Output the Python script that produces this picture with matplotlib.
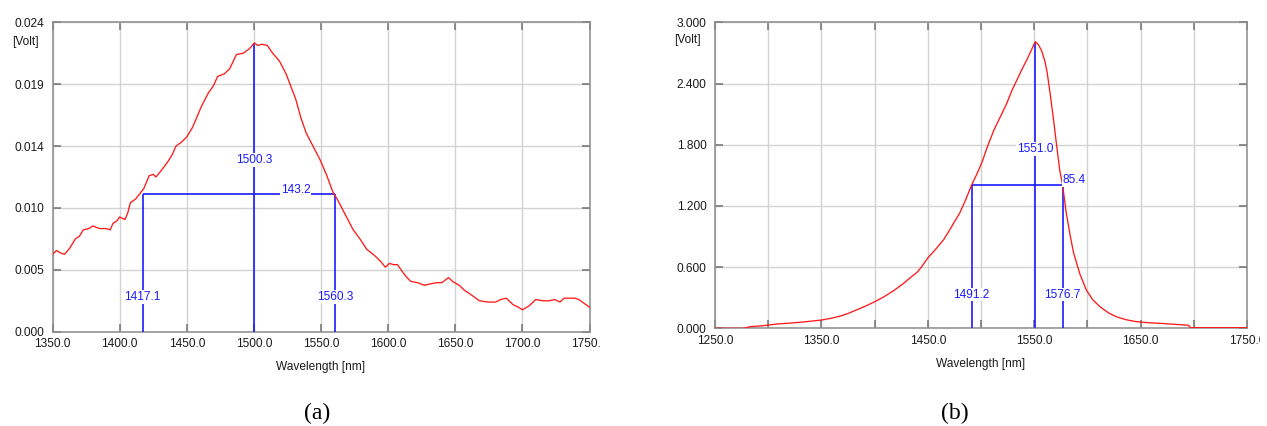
import numpy as np
import matplotlib
matplotlib.use("Agg")
import matplotlib.pyplot as plt
from matplotlib.transforms import Bbox, TransformedBbox

# ---- Spectrum (a) ----
a_wl = [1350, 1353, 1356, 1359, 1363, 1367, 1370, 1373, 1377, 1380, 1385, 1390,
        1393, 1395, 1398, 1400, 1404, 1406, 1408, 1412, 1415, 1418, 1422, 1425,
        1427, 1431, 1436, 1439, 1442, 1446, 1450, 1454, 1457, 1461, 1466, 1470,
        1473, 1478, 1482, 1487, 1492, 1496, 1498, 1500.3, 1503, 1506, 1510, 1514,
        1519, 1524, 1528, 1531, 1535, 1539, 1544, 1549, 1554, 1559, 1562, 1565,
        1570, 1574, 1579, 1584, 1590, 1594, 1598, 1601, 1604, 1607, 1611, 1614,
        1617, 1622, 1627, 1631, 1636, 1640, 1645, 1648, 1653, 1657, 1660, 1664,
        1668, 1674, 1680, 1684, 1688, 1693, 1697, 1700, 1705, 1710, 1715, 1720,
        1724, 1728, 1731, 1735, 1739, 1742, 1746, 1750]
a_volt = [0.0060, 0.0063, 0.0061, 0.0060, 0.0065, 0.0072, 0.0074, 0.0079, 0.0080,
          0.0082, 0.0080, 0.0080, 0.0079, 0.0084, 0.0086, 0.0089, 0.0087, 0.0092,
          0.0100, 0.0103, 0.0107, 0.0111, 0.0121, 0.0122, 0.0120, 0.0125, 0.0132,
          0.0137, 0.0144, 0.0147, 0.0151, 0.0158, 0.0165, 0.0175, 0.0185, 0.0191,
          0.0198, 0.0200, 0.0204, 0.0215, 0.0216, 0.0219, 0.0221, 0.0224, 0.0222,
          0.0223, 0.0222, 0.0216, 0.0210, 0.0200, 0.0189, 0.0181, 0.0166, 0.0154,
          0.0144, 0.0134, 0.0122, 0.0108, 0.0103, 0.0097, 0.0087, 0.0079, 0.0072,
          0.0064, 0.0059, 0.0055, 0.0050, 0.0053, 0.0052, 0.0052, 0.0046, 0.0042,
          0.0039, 0.0038, 0.0036, 0.0037, 0.0038, 0.0038, 0.0042, 0.0039, 0.0036,
          0.0032, 0.0030, 0.0027, 0.0024, 0.0023, 0.0023, 0.0025, 0.0026, 0.0021,
          0.0019, 0.0017, 0.0020, 0.0025, 0.0024, 0.0024, 0.0025, 0.0023, 0.0026,
          0.0026, 0.0026, 0.0025, 0.0022, 0.0019]
a_peak_wl, a_peak_v = 1500.3, 0.0224
a_left, a_right, a_level = 1417.1, 1560.3, 0.0107
a_fwhm = 143.2

# ---- Spectrum (b) ----
b_wl = [1250, 1277, 1283, 1295, 1308, 1322, 1336, 1350, 1360, 1368, 1376, 1383,
        1392, 1400, 1409, 1418, 1426, 1434, 1440, 1444, 1450, 1457, 1465, 1472,
        1480, 1486, 1491.2, 1496, 1501, 1506, 1512, 1518, 1524, 1529, 1534, 1539,
        1543, 1547, 1551, 1554, 1557, 1560, 1562, 1565, 1568, 1571, 1574, 1576.7,
        1580, 1584, 1587, 1593, 1599, 1605, 1612, 1620, 1627, 1636, 1646, 1657,
        1668, 1681, 1695, 1697, 1750]
b_volt = [0.000, 0.000, 0.016, 0.025, 0.042, 0.052, 0.065, 0.081, 0.100, 0.12,
          0.15, 0.18, 0.22, 0.26, 0.31, 0.37, 0.43, 0.50, 0.55, 0.60, 0.69, 0.77,
          0.87, 0.99, 1.13, 1.27, 1.405, 1.51, 1.63, 1.78, 1.94, 2.07, 2.20, 2.33,
          2.44, 2.55, 2.63, 2.72, 2.81, 2.78, 2.72, 2.62, 2.52, 2.30, 2.06, 1.80,
          1.55, 1.405, 1.14, 0.90, 0.74, 0.53, 0.375, 0.28, 0.21, 0.15, 0.114,
          0.085, 0.065, 0.055, 0.049, 0.040, 0.030, 0.006, 0.006]
b_peak_wl, b_peak_v = 1551.0, 2.81
b_left, b_right, b_level = 1491.2, 1576.7, 1.405
b_fwhm = 85.4

a_xticks = [1350, 1400, 1450, 1500, 1550, 1600, 1650, 1700, 1750]
a_yticks = [0.0, 0.0048, 0.0096, 0.0144, 0.0192, 0.024]
b_xticks = [1250, 1300, 1350, 1400, 1450, 1500, 1550, 1600, 1650, 1700, 1750]
b_yticks = [0.0, 0.6, 1.2, 1.8, 2.4, 3.0]

W, H = 1267, 426
fig = plt.figure(figsize=(W / 100, H / 100), dpi=100)
plt.rcParams['font.family'] = ['Liberation Sans', 'DejaVu Sans']

RED = '#ff1a1a'
BLUE = '#1a1aff'
FRAME = '#8c8c8c'
GRID = '#d2d2d2'
FS = 8.6
TXT = '#1a1a1a'


def px_axes(l, t, r, b):
    return fig.add_axes([l / W, 1 - b / H, (r - l) / W, (b - t) / H])


def style(ax, xlim, ylim, xticks, yticks, xfmt, yfmt, xlabel_every=1, clip_x=None):
    ax.set_xlim(*xlim)
    ax.set_ylim(*ylim)
    ax.set_xticks(xticks)
    ax.set_yticks(yticks)
    ax.set_xticklabels([xfmt % v if i % xlabel_every == 0 else ''
                        for i, v in enumerate(xticks)])
    ax.set_yticklabels([yfmt % v for v in yticks])
    ax.grid(True, color=GRID, linewidth=1.0, zorder=0)
    ax.set_axisbelow(True)
    for s in ax.spines.values():
        s.set_color(FRAME)
        s.set_linewidth(1.1)
    ax.tick_params(axis='both', direction='in', length=5.8, width=1.1,
                   color='#707070', top=True, right=True, labelsize=FS,
                   labelcolor=TXT)
    ax.tick_params(axis='y', pad=6)
    ax.tick_params(axis='x', pad=4.5)
    ax.set_xlabel('Wavelength [nm]', fontsize=FS, color=TXT, labelpad=8)
    if clip_x is not None:
        box = TransformedBbox(Bbox.from_extents(0, 0, clip_x / W, 1), fig.transFigure)
        for lab in ax.get_xticklabels():
            lab.set_clip_box(box)
            lab.set_clip_on(True)


def markers(ax, peak_wl, peak_v, left, right, level, fwhm, peak_y, foot_y,
            fwhm_pos, fwhm_ha):
    lw = 1.2
    kw = dict(color=BLUE, lw=lw, zorder=3, solid_capstyle='butt')
    ax.plot([peak_wl, peak_wl], [0, peak_v], **kw)
    ax.plot([left, left], [0, level], **kw)
    ax.plot([right, right], [0, level], **kw)
    ax.plot([left, right], [level, level], **kw)
    bb = dict(facecolor='white', edgecolor='none', pad=0.6)
    tk = dict(color=BLUE, fontsize=FS, va='center', bbox=bb, zorder=5)
    ax.text(peak_wl, peak_y, '%.1f' % peak_wl, ha='center', **tk)
    ax.text(left, foot_y, '%.1f' % left, ha='center', **tk)
    ax.text(right, foot_y, '%.1f' % right, ha='center', **tk)
    ax.text(fwhm_pos[0], fwhm_pos[1], '%.1f' % fwhm, ha=fwhm_ha, **tk)


# panel (a)
ax1 = px_axes(52.5, 22.3, 589.5, 331.7)
ax1.plot(a_wl, a_volt, color=RED, lw=0.95, zorder=4)
markers(ax1, a_peak_wl, a_peak_v, a_left, a_right, a_level, a_fwhm,
        peak_y=0.0133, foot_y=0.0027, fwhm_pos=(1531, 0.0110), fwhm_ha='center')
style(ax1, (1350, 1750), (0, 0.024), a_xticks, a_yticks, '%.1f', '%.3f',
      clip_x=600)
fig.text(25 / W, 1 - 42 / H, '[Volt]', fontsize=FS, color=TXT,
         ha='center', va='center')

# panel (b)
ax2 = px_axes(715, 22.3, 1247, 328.3)
ax2.plot(b_wl, b_volt, color=RED, lw=0.95, zorder=4)
markers(ax2, b_peak_wl, b_peak_v, b_left, b_right, b_level, b_fwhm,
        peak_y=1.76, foot_y=0.33, fwhm_pos=(b_right + 0.3, 1.45), fwhm_ha='left')
style(ax2, (1250, 1750), (0, 3.0), b_xticks, b_yticks, '%.1f', '%.3f',
      xlabel_every=2, clip_x=1260)
fig.text(687 / W, 1 - 40 / H, '[Volt]', fontsize=FS, color=TXT,
         ha='center', va='center')

# captions
cap = dict(fontsize=17, family=['Liberation Serif', 'DejaVu Serif'],
           ha='center', va='center', color='black')
fig.text(317 / W, 1 - 413 / H, '(a)', **cap)
fig.text(955 / W, 1 - 413 / H, '(b)', **cap)

fig.savefig('out.png', dpi=100)
